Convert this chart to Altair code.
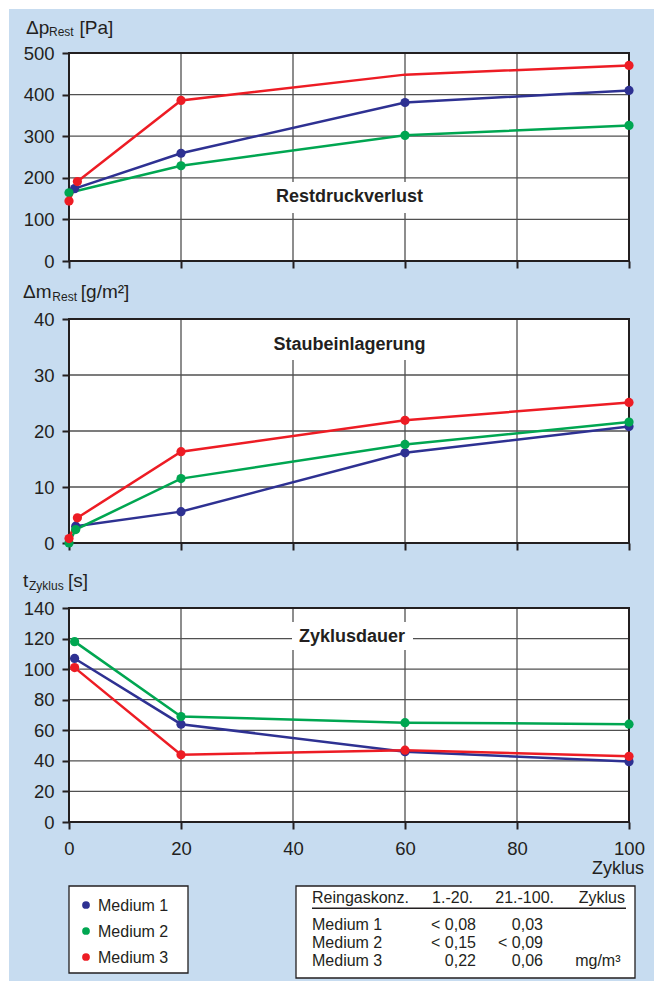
import altair as alt
import pandas as pd

# ---------------------------------------------------------------- data
MEDIEN = ["Medium 1", "Medium 2", "Medium 3"]
FARBEN = ["#2e3192", "#00a651", "#ed1c24"]
X_TICKS = [0, 20, 40, 60, 80, 100]

# Restdruckverlust  Δp_Rest [Pa]
dp_m1_zyklus = [1, 20, 60, 100]
dp_m1_wert = [174, 259, 381, 410]
dp_m2_zyklus = [0, 20, 60, 100]
dp_m2_wert = [164, 229, 302, 326]
dp_m3_zyklus = [0, 1.5, 20, 60, 100]
dp_m3_wert = [144, 191, 386, 448, 470]
dp_m3_punkt = [True, True, True, False, True]
dp_ticks = [0, 100, 200, 300, 400, 500]

# Staubeinlagerung  Δm_Rest [g/m²]
dm_m1_zyklus = [1.2, 20, 60, 100]
dm_m1_wert = [3.0, 5.6, 16.1, 20.8]
dm_m2_zyklus = [0, 1.2, 20, 60, 100]
dm_m2_wert = [0, 2.4, 11.5, 17.6, 21.6]
dm_m3_zyklus = [0, 1.5, 20, 60, 100]
dm_m3_wert = [0.8, 4.5, 16.3, 21.9, 25.1]
dm_ticks = [0, 10, 20, 30, 40]

# Zyklusdauer  t_Zyklus [s]
tz_m1_zyklus = [1, 20, 60, 100]
tz_m1_wert = [107, 64, 46, 39.5]
tz_m2_zyklus = [1, 20, 60, 100]
tz_m2_wert = [118, 69, 65, 64]
tz_m3_zyklus = [1, 20, 60, 100]
tz_m3_wert = [101, 44, 47, 43]
tz_ticks = [0, 20, 40, 60, 80, 100, 120, 140]

# Reingaskonzentration
tab_kopf = ["Reingaskonz.", "1.-20.", "21.-100.", "Zyklus"]
tab_medium = ["Medium 1", "Medium 2", "Medium 3"]
tab_1_20 = ["< 0,08", "< 0,15", "0,22"]
tab_21_100 = ["0,03", "< 0,09", "0,06"]
tab_einheit = ["", "", "mg/m³"]

# ---------------------------------------------------------------- style
FONT = "Liberation Sans"
INK = "#231f20"
GRID = "#505050"
BG = "#c7dcf0"
PW = 560          # plot width
GAP = 58          # vertical gap between panels
ONE = pd.DataFrame({"k": [0]})

COLOR_SCALE = alt.Scale(domain=MEDIEN, range=FARBEN)


def serie(medium, zyklus, wert, punkt=None):
    return pd.DataFrame({
        "medium": medium,
        "zyklus": zyklus,
        "wert": wert,
        "punkt": punkt if punkt is not None else [True] * len(zyklus),
    })


def text_at(txt, x, y, size, align="left", weight="normal"):
    return alt.Chart(ONE).mark_text(
        text=txt, align=align, baseline="alphabetic", font=FONT,
        fontSize=size, fontWeight=weight, color=INK,
    ).encode(x=alt.value(x), y=alt.value(y))


def rect_at(x, x2, y, y2, **style):
    return alt.Chart(ONE).mark_rect(**style).encode(
        x=alt.value(x), x2=alt.value(x2), y=alt.value(y), y2=alt.value(y2)
    )


def panel(df, ticks, height, top, x_labels, title, label, box, extra=()):
    x_scale = alt.Scale(domain=[0, 100], nice=False, zero=False)
    y_scale = alt.Scale(domain=[ticks[0], ticks[-1]], nice=False, zero=False,
                        range=[height, top])
    x_axis = alt.Axis(values=X_TICKS, labels=x_labels, domain=False, grid=False,
                      tickSize=7, tickWidth=2, tickColor=INK, labelFont=FONT,
                      labelFontSize=18.5, labelColor=INK, labelPadding=10,
                      labelFlush=False, labelOverlap=False, title=None)
    y_axis = alt.Axis(values=ticks, domain=False, grid=False, tickSize=7,
                      tickWidth=2, tickColor=INK, labelFont=FONT,
                      labelFontSize=18.5, labelColor=INK, labelPadding=8,
                      labelOverlap=False, title=None)

    def X(f):
        return alt.X(f"{f}:Q", scale=x_scale, axis=x_axis, title=None)

    def Y(f):
        return alt.Y(f"{f}:Q", scale=y_scale, axis=y_axis, title=None)

    plot_bg = rect_at(0, PW, top, height, fill="white")
    y_grid = alt.Chart(pd.DataFrame({"wert": ticks[1:-1]})).mark_rule(
        color=GRID, strokeWidth=1.3
    ).encode(y=Y("wert"), x=alt.value(0), x2=alt.value(PW))
    x_grid = alt.Chart(pd.DataFrame({"zyklus": X_TICKS[1:-1]})).mark_rule(
        color=GRID, strokeWidth=1.3
    ).encode(x=X("zyklus"), y=alt.value(top), y2=alt.value(height))
    label_bg = rect_at(*box, fill="white")
    frame = rect_at(0, PW, top, height, fill="transparent", stroke=INK,
                    strokeWidth=2)
    lines = alt.Chart(df).mark_line(strokeWidth=2.5).encode(
        x=X("zyklus"), y=Y("wert"),
        stroke=alt.Stroke("medium:N", scale=COLOR_SCALE, legend=None),
    )
    points = alt.Chart(df).transform_filter("datum.punkt").mark_circle(
        size=85, opacity=1
    ).encode(
        x=X("zyklus"), y=Y("wert"),
        color=alt.Color("medium:N", scale=COLOR_SCALE, legend=None),
    )
    label_txt = text_at(label[0], label[1], label[2], 18, align="center",
                        weight="bold")
    title_txt = [text_at(*t) for t in title]

    layers = list(extra) + [plot_bg, y_grid, x_grid, label_bg, frame, lines,
                            points, label_txt] + title_txt
    return alt.layer(*layers).properties(width=PW, height=height)


# ---------------------------------------------------------------- panels
df_dp = pd.concat([
    serie("Medium 1", dp_m1_zyklus, dp_m1_wert),
    serie("Medium 2", dp_m2_zyklus, dp_m2_wert),
    serie("Medium 3", dp_m3_zyklus, dp_m3_wert, dp_m3_punkt),
], ignore_index=True)
df_dm = pd.concat([
    serie("Medium 1", dm_m1_zyklus, dm_m1_wert),
    serie("Medium 2", dm_m2_zyklus, dm_m2_wert),
    serie("Medium 3", dm_m3_zyklus, dm_m3_wert),
], ignore_index=True)
df_tz = pd.concat([
    serie("Medium 1", tz_m1_zyklus, tz_m1_wert),
    serie("Medium 2", tz_m2_zyklus, tz_m2_wert),
    serie("Medium 3", tz_m3_zyklus, tz_m3_wert),
], ignore_index=True)

# white page margin at the top and left edge of the blue sheet
margin = [
    rect_at(-69, -60, -53, 928, fill="white"),
    rect_at(-69, 585, -53, -44, fill="white"),
]

p_dp = panel(
    df_dp, dp_ticks, 208, 0, False,
    [("Δp", -43, -19.5, 19), ("Rest", -20, -17, 12), ("[Pa]", 10.5, -19.5, 19)],
    ("Restdruckverlust", 280.5, 149), (201, 360, 129, 160), extra=margin,
)
p_dm = panel(
    df_dm, dm_ticks, 224, 0, False,
    [("Δm", -46, -20.7, 19), ("Rest", -16.7, -18, 12), ("[g/m²]", 11.8, -20.7, 19)],
    ("Staubeinlagerung", 280.5, 30.5), (201, 358, 0, 41),
)
p_tz = panel(
    df_tz, tz_ticks, 221, 7, True,
    [("t", -46, -14.3, 19), ("Zyklus", -40, -11.5, 12), ("[s]", -1, -14.3, 19),
     ("Zyklus", 575, 273, 18, "right")],
    ("Zyklusdauer", 283, 40.5), (223, 344, 21, 49),
)

# ---------------------------------------------------------------- legend + table
LEG_Y = [25, 51, 77]
legende = pd.DataFrame({"medium": MEDIEN, "py": LEG_Y,
                        "ty": [y + 5.5 for y in LEG_Y]})
leg_dots = alt.Chart(legende).mark_circle(size=60, opacity=1).encode(
    x=alt.value(17), y=alt.Y("py:Q", scale=None),
    color=alt.Color("medium:N", scale=COLOR_SCALE, legend=None),
)
leg_text = alt.Chart(legende).mark_text(
    align="left", baseline="alphabetic", font=FONT, fontSize=16, color=INK
).encode(x=alt.value(29), y=alt.Y("ty:Q", scale=None), text="medium:N")

ROW_Y = [50, 68, 86]
links = pd.DataFrame({
    "text": [tab_kopf[0]] + tab_medium,
    "px": [243] * 4,
    "py": [23] + ROW_Y,
})
rechts = pd.DataFrame({
    "text": tab_kopf[1:] + tab_1_20 + tab_21_100 + tab_einheit,
    "px": [404, 485, 556] + [407] * 3 + [474] * 3 + [551.5] * 3,
    "py": [23] * 3 + ROW_Y * 3,
})


def cells(df, align):
    return alt.Chart(df).mark_text(
        align=align, baseline="alphabetic", font=FONT, fontSize=16, color=INK
    ).encode(
        x=alt.X("px:Q", scale=None), y=alt.Y("py:Q", scale=None), text="text:N"
    )


p_tab = alt.layer(
    rect_at(0, 119, 6, 93, fill="white", stroke=INK, strokeWidth=1.3),
    rect_at(227, 566, 6, 98, fill="white", stroke=INK, strokeWidth=1.3),
    alt.Chart(ONE).mark_rule(color=INK, strokeWidth=1.5).encode(
        x=alt.value(243), x2=alt.value(557), y=alt.value(28.3)
    ),
    leg_dots,
    leg_text,
    cells(links, "left"),
    cells(rechts, "right"),
).properties(width=PW, height=98)

chart = alt.vconcat(
    p_dp, p_dm, p_tz, p_tab, spacing=GAP, bounds="flush"
).properties(
    padding=0,
    autosize=alt.AutoSizeParams(type="pad"),
    background=BG,
).configure_view(strokeWidth=0)

chart.save("out.html", embed_options={"renderer": "svg", "actions": False})
